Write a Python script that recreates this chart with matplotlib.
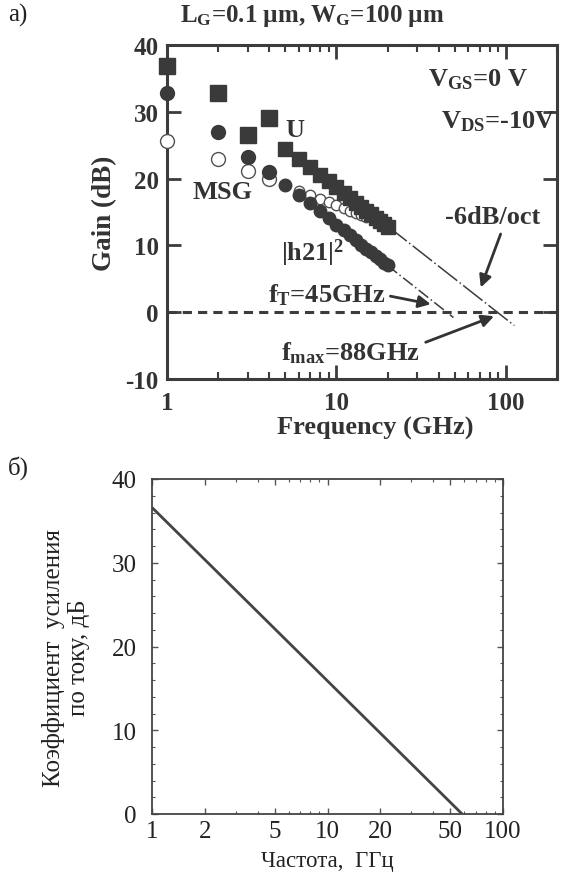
import matplotlib
matplotlib.use("Agg")
import matplotlib.pyplot as plt
from matplotlib.ticker import LogLocator, NullFormatter, FixedLocator, MultipleLocator, FixedFormatter

plt.rcParams['font.family'] = ['Liberation Serif', 'DejaVu Serif']
plt.rcParams['mathtext.fontset'] = 'custom'
plt.rcParams['mathtext.rm'] = 'Liberation Serif:bold'
plt.rcParams['mathtext.bf'] = 'Liberation Serif:bold'
plt.rcParams['mathtext.it'] = 'Liberation Serif:bold'
plt.rcParams['axes.unicode_minus'] = False

# ---------------- data (panel a) ----------------
u_freq = [1, 2, 3, 4, 5, 6, 7, 8, 9, 10, 11, 12, 13, 14, 15, 16, 17, 18, 19, 20]
u_gain = [36.8, 32.8, 26.5, 29.0, 24.4, 23.0, 21.7, 20.6, 19.6, 18.7, 17.9, 17.1,
          16.4, 15.8, 15.2, 14.7, 14.1, 13.6, 13.2, 12.8]
h21_freq = [1, 2, 3, 4, 5, 6, 7, 8, 9, 10, 11, 12, 13, 14, 15, 16, 17, 18, 19, 20]
h21_gain = [32.8, 27.0, 23.3, 21.0, 19.0, 17.6, 16.3, 15.1, 14.1, 13.1, 12.3, 11.5,
            10.8, 10.1, 9.5, 9.0, 8.4, 7.9, 7.4, 7.0]
msg_freq = [1, 2, 3, 4, 6, 7, 8, 9, 10, 11, 12, 13, 14, 15]
msg_gain = [25.6, 22.9, 21.1, 20.0, 18.2, 17.6, 17.0, 16.5, 16.0, 15.6, 15.2, 14.9,
            14.5, 14.2]
fitU_freq = [20, 112]
fitU_gain = [12.9, -2.0]
fitH_freq = [20, 49]
fitH_gain = [7.0, -0.8]
zero_freq = [1, 200]
zero_gain = [0, 0]

# ---------------- data (panel b) ----------------
b_freq = [1, 58.5]
b_gain = [36.6, 0.0]
b_xticks = [1, 2, 5, 10, 20, 50, 100]
b_xticklabels = ['1', '2', '5', '10', '20', '50', '100']
b_yticks = [0, 10, 20, 30, 40]

W, H = 568, 878
fig = plt.figure(figsize=(W / 100, H / 100), dpi=100)

dark = '#3c3c3c'
txtc = '#333333'
# ---------------- panel a ----------------
ax = fig.add_axes([167 / W, 1 - 380 / H, 390 / W, 334 / H])
ax.set_xscale('log')
ax.set_xlim(1, 200)
ax.set_ylim(-10, 40)

ax.plot(zero_freq, zero_gain, ls=(0, (3, 2)), color=dark, lw=2.2, zorder=1)
ax.plot(fitU_freq, fitU_gain, ls=(0, (16, 2, 1, 2)), color=dark, lw=1.1, zorder=1)
ax.plot(fitH_freq, fitH_gain, ls=(0, (8, 2, 1, 2)), color=dark, lw=1.1, zorder=1)
ax.plot(msg_freq[:4], msg_gain[:4], 'o', ms=10, mfc='white', mec='#505050', mew=1.0,
        ls='none', clip_on=False, zorder=3)
ax.plot(msg_freq[4:], msg_gain[4:], 'o', ms=7.5, mfc='white', mec='#505050', mew=1.0,
        ls='none', clip_on=False, zorder=3)
ax.plot(h21_freq[:4], h21_gain[:4], 'o', ms=10, color='#3a3a3a', ls='none', clip_on=False, zorder=4)
ax.plot(h21_freq[4:], h21_gain[4:], 'o', ms=9, color='#3a3a3a', ls='none', clip_on=False, zorder=4)
ax.plot(u_freq[:4], u_gain[:4], 's', ms=11.5, color='#3a3a3a', ls='none', clip_on=False, zorder=5)
ax.plot(u_freq[4:], u_gain[4:], 's', ms=10, color='#3a3a3a', ls='none', clip_on=False, zorder=5)

for s in ax.spines.values():
    s.set_linewidth(2.2)
    s.set_color(dark)
ax.yaxis.set_major_locator(MultipleLocator(10))
ax.xaxis.set_major_locator(FixedLocator([1, 10, 100]))
ax.xaxis.set_major_formatter(FixedFormatter(['1', '10', '100']))
ax.xaxis.set_minor_locator(LogLocator(base=10, subs=range(2, 10)))
ax.xaxis.set_minor_formatter(NullFormatter())
ax.tick_params(which='major', direction='in', length=10, width=2, color=dark,
               top=True, right=True, labelsize=18, pad=6, labelcolor=txtc)
ax.tick_params(axis='x', which='major', pad=9)
ax.tick_params(which='minor', direction='in', length=5, width=1.5, color=dark,
               top=True, right=True)
for lab in ax.get_xticklabels() + ax.get_yticklabels():
    lab.set_fontweight('bold')
ax.set_xlabel('Frequency (GHz)', fontsize=19, fontweight='bold', color=txtc, labelpad=1)
ax.xaxis.label.set_x((375 - 167) / 390)
ax.set_ylabel('Gain (dB)', fontsize=19.5, fontweight='bold', color=txtc, labelpad=6)

tk = dict(fontsize=19, fontweight='bold', color=txtc, ha='center', va='center')
ax.text(5.7, 27.4, 'U', **tk)
ax.text(2.12, 18.0, 'MSG', **tk)
ax.text(7.2, 9.0, '|h21|$^{\\mathrm{2}}$', **tk)
ax.text(83, 14.4, '-6dB/oct', **tk)
ax.text(8.8, 2.7, 'f$_{\\mathrm{T}}$=45GHz', **tk)
ax.text(12.1, -6.0, 'f$_{\\mathrm{max}}$=88GHz', **tk)
ax.text(0.926, 0.898, 'V$_{\\mathrm{GS}}$=0 V', transform=ax.transAxes,
        fontsize=19, fontweight='bold', color=txtc, ha='right', va='center')
ax.text(0.995, 0.772, 'V$_{\\mathrm{DS}}$=-10V', transform=ax.transAxes,
        fontsize=19, fontweight='bold', color=txtc, ha='right', va='center')

ap = dict(arrowstyle='-|>', color=txtc, lw=2, mutation_scale=18, shrinkA=0, shrinkB=0)
ax.annotate('', xy=(71, 3.7), xytext=(93, 11.7), arrowprops=ap)
ax.annotate('', xy=(36, 1.2), xytext=(20.8, 2.4), arrowprops=ap)
ax.annotate('', xy=(85, -0.6), xytext=(33.6, -4.5), arrowprops=ap)

fig.text(312 / W, 1 - 16 / H, 'L$_{\\mathrm{G}}$=0.1 µm, W$_{\\mathrm{G}}$=100 µm',
         fontsize=18, fontweight='bold', color=txtc, ha='center', va='center')
fig.text(8 / W, 1 - 15 / H, 'a)', fontsize=18, color='#222222', ha='left', va='center')
fig.text(8 / W, 1 - 468 / H, 'б)', fontsize=18, color='#222222', ha='left', va='center')

# ---------------- panel b ----------------
bx = fig.add_axes([152 / W, 1 - 815 / H, 351 / W, 335 / H])
bx.set_xscale('log')
bx.set_xlim(1, 100)
bx.set_ylim(0, 40)
bx.plot(b_freq, b_gain, color='#444444', lw=2.0, solid_capstyle='butt')
for s in bx.spines.values():
    s.set_linewidth(1.3)
    s.set_color('#444444')
bx.xaxis.set_major_locator(FixedLocator(b_xticks))
bx.xaxis.set_major_formatter(FixedFormatter(b_xticklabels))
bx.xaxis.set_minor_locator(LogLocator(base=10, subs=range(2, 10)))
bx.xaxis.set_minor_formatter(NullFormatter())
bx.yaxis.set_major_locator(FixedLocator(b_yticks))
bx.yaxis.set_minor_locator(MultipleLocator(2))
bx.tick_params(which='major', direction='in', length=4, width=1, color='#555555',
               top=True, right=True, labelsize=18, pad=11, labelcolor='#222222')
bx.tick_params(axis='x', which='major', pad=4)
bx.tick_params(which='minor', direction='in', length=2.5, width=0.8, color='#555555',
               top=True, right=True)
bx.set_xlabel('Частота,  ГГц', fontsize=16.5, color='#222222', labelpad=6)
bx.set_ylabel('Коэффициент  усиления\nпо току, дБ', fontsize=18, color='#222222',
              labelpad=16, linespacing=1.15)
bx.yaxis.label.set_y((815 - 658) / 335)

fig.savefig('out.png', dpi=100)
